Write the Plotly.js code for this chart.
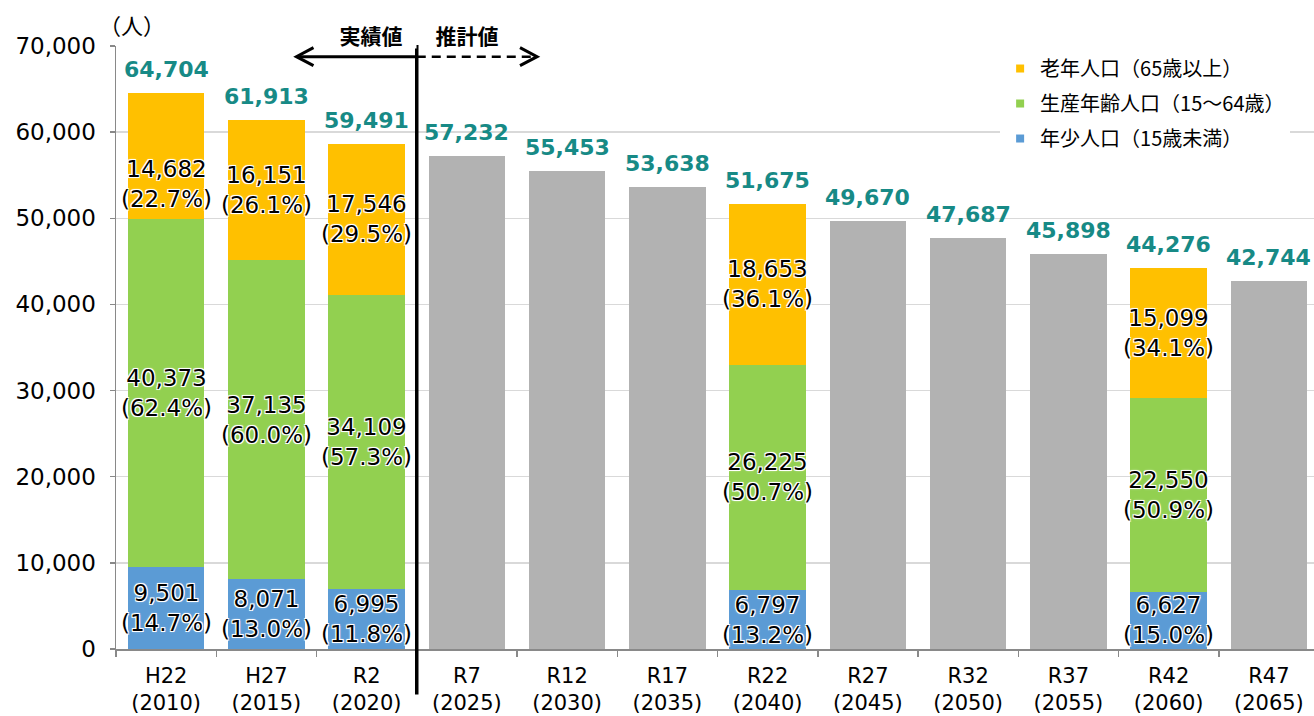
<!DOCTYPE html>
<html>
<head>
<meta charset="utf-8">
<script src="https://cdn.plot.ly/plotly-3.0.1.min.js"></script>
<style>html,body{margin:0;padding:0;background:#fff;}#chart{width:1314px;height:716px;}</style>
</head>
<body>
<div id="chart"></div>
<script>
// ---- data ----
const eras = ['H22','H27','R2','R7','R12','R17','R22','R27','R32','R37','R42','R47'];
const years = ['2010','2015','2020','2025','2030','2035','2040','2045','2050','2055','2060','2065'];
const young   = [9501, 8071, 6995, null, null, null, 6797, null, null, null, 6627, null];
const working = [40373, 37135, 34109, null, null, null, 26225, null, null, null, 22550, null];
const old     = [14682, 16151, 17546, null, null, null, 18653, null, null, null, 15099, null];
const youngPct   = ['14.7','13.0','11.8', null, null, null, '13.2', null, null, null, '15.0', null];
const workingPct = ['62.4','60.0','57.3', null, null, null, '50.7', null, null, null, '50.9', null];
const oldPct     = ['22.7','26.1','29.5', null, null, null, '36.1', null, null, null, '34.1', null];
const total = [64704, 61913, 59491, 57232, 55453, 53638, 51675, 49670, 47687, 45898, 44276, 42744];
const legendNames = ['老年人口（65歳以上）', '生産年齢人口（15～64歳）', '年少人口（15歳未満）'];
const yTitle = '（人）';
const actualLabel = '実績値';
const projLabel = '推計値';

// ---- styling ----
const C_YOUNG = '#5B9BD5', C_WORK = '#92D050', C_OLD = '#FFC000', C_GRAY = '#B2B2B2';
const TEAL = '#178A86';
const AXIS = '#898989';
const NUM_FONT = 'DejaVu Sans, Noto Sans CJK JP, sans-serif';
const JP_FONT = 'Noto Sans CJK JP, sans-serif';
const HALO = '1px 1px 0 #fff, -1px -1px 0 #fff, 1px -1px 0 #fff, -1px 1px 0 #fff, 0 0 3px #fff';

const cats = eras.map((e, i) => e + '<br>(' + years[i] + ')');
const fmt = v => v.toLocaleString('en-US');
const gray = total.map((t, i) => young[i] == null ? t : null);

const traces = [
  {type:'bar', x:cats, y:young, marker:{color:C_YOUNG}, showlegend:false, hoverinfo:'skip'},
  {type:'bar', x:cats, y:working, marker:{color:C_WORK}, showlegend:false, hoverinfo:'skip'},
  {type:'bar', x:cats, y:old, marker:{color:C_OLD}, showlegend:false, hoverinfo:'skip'},
  {type:'bar', x:cats, y:gray, marker:{color:C_GRAY}, showlegend:false, hoverinfo:'skip'}
];
[C_OLD, C_WORK, C_YOUNG].forEach((c, k) => {
  traces.push({type:'scatter', mode:'markers', x:[null], y:[null], name:legendNames[k],
    legendgroup:'g'+k, marker:{symbol:'square', size:8, color:c}});
});

const annotations = [];
const labelShift = {'0-old': -28};
cats.forEach((c, i) => {
  const segs = [[young, youngPct, 'young'], [working, workingPct, 'work'], [old, oldPct, 'old']];
  let base = 0;
  segs.forEach(([arr, pct, key]) => {
    const v = arr[i];
    if (v == null) return;
    annotations.push({x:c, y:base + v/2, xref:'x', yref:'y', showarrow:false,
      text: fmt(v) + '<br>(' + pct[i] + '%)', yanchor:'middle',
      yshift: labelShift[i + '-' + key] || 0,
      font:{family:NUM_FONT, size:23, color:'#000', shadow:HALO}});
    base += v;
  });
  const top = young[i] == null ? gray[i] : base;
  annotations.push({x:c, y:top, xref:'x', yref:'y', showarrow:false, text:fmt(total[i]),
    yanchor:'bottom', yshift:9, font:{family:NUM_FONT, size:22, color:TEAL, weight:'bold'}});
});

// unit label and era labels
annotations.push({xref:'paper', yref:'paper', x:0.0134, y:1.0365, xanchor:'center', yanchor:'middle',
  text:yTitle, showarrow:false, font:{family:JP_FONT, size:22, color:'#000'}});
annotations.push({xref:'x', yref:'paper', x:2.04, y:1.018, xanchor:'center', yanchor:'middle',
  text:actualLabel, showarrow:false, bgcolor:'#fff', width:88, height:24,
  font:{family:JP_FONT, size:21, color:'#000', weight:'bold'}});
annotations.push({xref:'x', yref:'paper', x:3.0, y:1.018, xanchor:'center', yanchor:'middle',
  text:projLabel, showarrow:false, bgcolor:'#fff', width:82, height:24,
  font:{family:JP_FONT, size:21, color:'#000', weight:'bold'}});

const ay = 0.9823, ah = 0.0149, aw = 0.17;
const shapes = [
  {type:'line', xref:'x', yref:'paper', x0:2.5, x1:2.5, y0:-0.0754, y1:1.0017, line:{color:'#000', width:3.5}},
  {type:'line', xref:'x', yref:'paper', x0:2.5, x1:1.31, y0:ay, y1:ay, line:{color:'#000', width:3}},
  {type:'path', xref:'x', yref:'paper', path:`M ${1.30+aw},${ay+ah} L 1.30,${ay} L ${1.30+aw},${ay-ah}`, line:{color:'#000', width:3}},
  {type:'line', xref:'x', yref:'paper', x0:2.5, x1:3.69, y0:ay, y1:ay, line:{color:'#000', width:2.5, dash:'9px,6px'}},
  {type:'path', xref:'x', yref:'paper', path:`M ${3.70-aw},${ay+ah} L 3.70,${ay} L ${3.70-aw},${ay-ah}`, line:{color:'#000', width:3}}
];

const layout = {
  width:1314, height:716,
  margin:{l:116, r:0, t:46, b:67},
  paper_bgcolor:'#fff', plot_bgcolor:'#fff',
  barmode:'stack', bargap:0.235,
  hovermode:false,
  showlegend:true,
  legend:{x:0.738, y:0.995, xanchor:'left', yanchor:'top', bgcolor:'#fff',
    font:{family:JP_FONT, size:20, color:'#000'}, traceorder:'grouped', tracegroupgap:6},
  xaxis:{type:'category', range:[-0.5, 11.45], tickson:'boundaries', ticks:'outside', ticklen:6,
    tickcolor:AXIS, tickwidth:1.5, showline:true, linecolor:AXIS, linewidth:1.5, showgrid:false,
    tickangle:0,
    tickfont:{family:NUM_FONT, size:21, color:'#000'}, ticklabelstandoff:7, automargin:false, fixedrange:true},
  yaxis:{range:[0, 70000], dtick:10000, tickformat:',d', ticks:'outside', ticklen:5, tickcolor:AXIS,
    tickwidth:1.5, showline:true, linecolor:AXIS, linewidth:1.5, showgrid:true, gridcolor:'#D9D9D9',
    gridwidth:1.5, zeroline:false, tickfont:{family:NUM_FONT, size:23, color:'#000'},
    ticklabelstandoff:9, automargin:false, fixedrange:true},
  annotations:annotations,
  shapes:shapes
};

Plotly.newPlot('chart', traces, layout, {displayModeBar:false, staticPlot:true});
</script>
</body>
</html>
